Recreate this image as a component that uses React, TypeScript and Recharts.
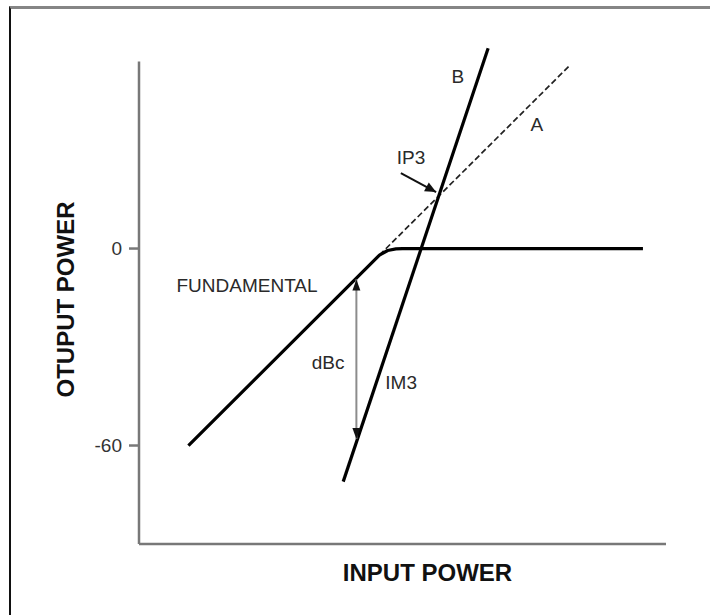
import React from "react";
import { LineChart, Line, XAxis, YAxis, ReferenceLine, ReferenceDot } from "recharts";

const FONT = "'Liberation Sans', Arial, sans-serif";
const AXIS_GRAY = "#787878";

// y ticks on the output axis
const Y_TICKS = [0, -60];

// fundamental output vs input (slope 1, compresses to 0)
const FUNDAMENTAL = [
  { x: 15, y: -60 },
  { x: 73, y: -2 },
  { x: 75.5, y: -0.6 },
  { x: 78, y: -0.1 },
  { x: 80, y: 0 },
  { x: 153, y: 0 },
];

// extrapolated fundamental (A)
const EXTRAPOLATED = [
  { x: 73, y: -2 },
  { x: 130.5, y: 55.5 },
];

// third-order intermod product (B, slope 3)
const IM3 = [
  { x: 62, y: -71 },
  { x: 106, y: 61 },
];

// dBc measurement span and IP3 pointer
const DBC_SPAN = [
  { x: 66, y: -9.4 },
  { x: 66, y: -58 },
];
const IP3_POINTER = [
  { x: 79.5, y: 23 },
  { x: 90.2, y: 17.2 },
];

// y-axis line extent
const Y_AXIS_SPAN = [
  { x: 0, y: -90 },
  { x: 0, y: 57 },
];

const LABELS = [
  { text: "B", x: 96.8, y: 52.4 },
  { text: "A", x: 120.8, y: 37.8 },
  { text: "IP3", x: 82.6, y: 27.7 },
  { text: "FUNDAMENTAL", x: 32.8, y: -11.3 },
  { text: "dBc", x: 57.4, y: -34.7 },
  { text: "IM3", x: 79.6, y: -40.8 },
];

const head = (x1: number, y1: number, x2: number, y2: number, len: number, half: number, fill: string) => {
  const a = Math.atan2(y2 - y1, x2 - x1);
  const bx = x2 - len * Math.cos(a);
  const by = y2 - len * Math.sin(a);
  const px = -Math.sin(a) * half;
  const py = Math.cos(a) * half;
  return <polygon points={`${x2},${y2} ${bx + px},${by + py} ${bx - px},${by - py}`} fill={fill} />;
};

const DoubleArrow = (p: any) => (
  <g>
    <line x1={p.x1} y1={p.y1} x2={p.x2} y2={p.y2} stroke="#8c8c8c" strokeWidth={2} />
    {head(p.x2, p.y2, p.x1, p.y1, 11, 4, "#111")}
    {head(p.x1, p.y1, p.x2, p.y2, 11, 4, "#111")}
  </g>
);

const Pointer = (p: any) => (
  <g>
    <line x1={p.x1} y1={p.y1} x2={p.x2} y2={p.y2} stroke="#111" strokeWidth={2} />
    {head(p.x1, p.y1, p.x2, p.y2, 11, 5, "#111")}
  </g>
);

const PlainLine = (p: any) => (
  <line x1={p.x1} y1={p.y1} x2={p.x2} y2={p.y2} stroke={AXIS_GRAY} strokeWidth={2.5} />
);

const XTitle = ({ viewBox }: any) => (
  <text
    x={viewBox.x + viewBox.width / 2 + 25}
    y={viewBox.y + 37}
    textAnchor="middle"
    fontSize={24}
    fontWeight="bold"
    fill="#111"
    fontFamily={FONT}
  >
    INPUT POWER
  </text>
);

const YTitle = ({ viewBox }: any) => {
  const x = viewBox.x + 74;
  const y = viewBox.y + viewBox.height / 2 + 5;
  return (
    <text
      x={x}
      y={y}
      transform={`rotate(-90 ${x} ${y})`}
      textAnchor="middle"
      fontSize={24}
      fontWeight="bold"
      fill="#111"
      fontFamily={FONT}
    >
      OTUPUT POWER
    </text>
  );
};

export default function App() {
  return (
    <div style={{ position: "absolute", left: 0, top: 0, width: 710, height: 615, background: "#fff", fontFamily: FONT }}>
      <div
        style={{
          position: "absolute",
          left: 9,
          top: 6,
          width: 701,
          height: 609,
          borderTop: "3px solid #858585",
          borderLeft: "2px solid #111",
          boxSizing: "border-box",
        }}
      />
      <LineChart
        width={710}
        height={615}
        margin={{ top: 45, right: 44, bottom: 0, left: 0 }}
        style={{ position: "absolute", left: 0, top: 0 }}
      >
        <XAxis
          dataKey="x"
          type="number"
          domain={[0, 160]}
          allowDataOverflow
          tick={false}
          tickLine={false}
          axisLine={{ stroke: AXIS_GRAY, strokeWidth: 2.5 }}
          height={71}
          label={<XTitle />}
        />
        <YAxis
          type="number"
          domain={[-90, 62]}
          allowDataOverflow
          ticks={Y_TICKS}
          interval={0}
          width={139}
          axisLine={false}
          tickSize={10}
          tickMargin={7}
          tickLine={{ stroke: AXIS_GRAY, strokeWidth: 2.5 }}
          tick={{ fontSize: 19, fill: "#333", fontFamily: FONT }}
          label={<YTitle />}
        />
        <ReferenceLine segment={Y_AXIS_SPAN} ifOverflow="visible" shape={PlainLine} />
        <Line
          data={EXTRAPOLATED}
          dataKey="y"
          type="linear"
          stroke="#222"
          strokeWidth={1.7}
          strokeDasharray="6 3"
          dot={false}
          isAnimationActive={false}
        />
        <Line
          data={FUNDAMENTAL}
          dataKey="y"
          type="linear"
          stroke="#000"
          strokeWidth={3.2}
          strokeLinejoin="round"
          dot={false}
          isAnimationActive={false}
        />
        <Line
          data={IM3}
          dataKey="y"
          type="linear"
          stroke="#000"
          strokeWidth={3.2}
          dot={false}
          isAnimationActive={false}
        />
        <ReferenceLine segment={DBC_SPAN} ifOverflow="visible" shape={DoubleArrow} />
        <ReferenceLine segment={IP3_POINTER} ifOverflow="visible" shape={Pointer} />
        {LABELS.map((l) => (
          <ReferenceDot
            key={l.text}
            x={l.x}
            y={l.y}
            ifOverflow="visible"
            shape={(p: any) => (
              <text
                x={p.cx}
                y={p.cy}
                dy="0.36em"
                textAnchor="middle"
                fontSize={19}
                fill="#2a2a2a"
                fontFamily={FONT}
              >
                {l.text}
              </text>
            )}
          />
        ))}
      </LineChart>
    </div>
  );
}
